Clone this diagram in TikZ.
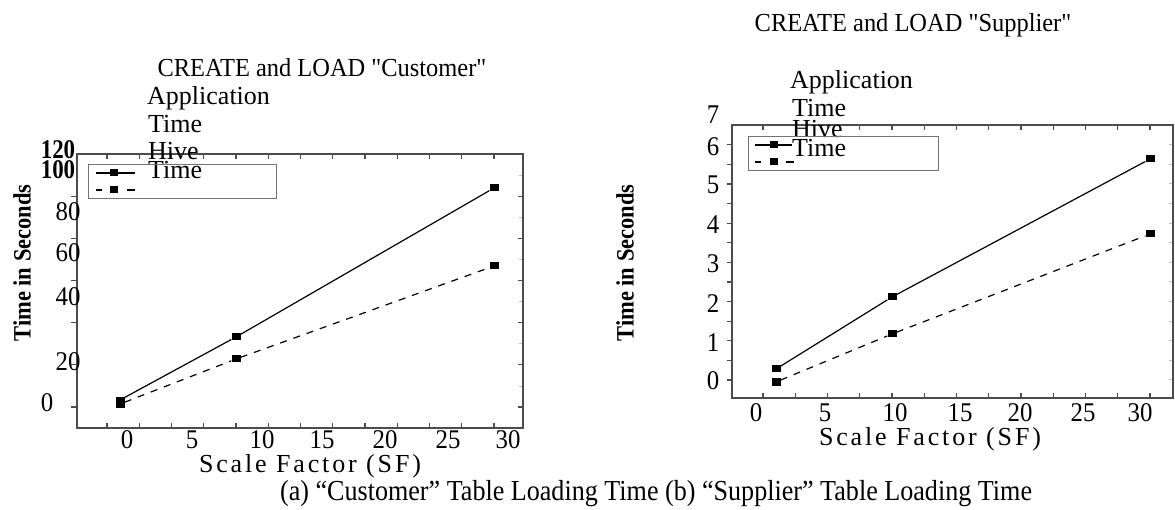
\documentclass[tikz,border=0pt]{standalone}
\usepackage{fontspec}
\setmainfont{Liberation Serif}
\newfontfamily\spacedserif[LetterSpace=11]{Liberation Serif}
\tikzset{
    > = stealth,
    axisline/.style = {draw=black!70, line width=1.6pt},
    tickline/.style = {draw=black!70, line width=1.2pt},
    faintick/.style = {draw=black!25, line width=1pt},
    legendbox/.style = {draw=black!55, line width=1pt},
    appline/.style = {draw=black, line width=1.2pt},
    hiveline/.style = {draw=black, line width=1.2pt, dash pattern=on 7pt off 7pt},
    legdash/.style = {draw=black, line width=1.2pt, dash pattern=on 6pt off 25pt on 8pt},
    datamark/.style = {fill=black, inner sep=0pt, minimum width=9pt, minimum height=7pt},
    legmark/.style = {fill=black, inner sep=0pt, minimum width=8pt, minimum height=7pt},
    ticklabel/.style = {font=\fontsize{27}{27}\selectfont, inner sep=0pt, xscale=0.92},
    boldlabel/.style = {font=\fontsize{27}{27}\selectfont\bfseries, inner sep=0pt, xscale=0.85},
    titletext/.style = {font=\fontsize{26}{26}\selectfont, inner sep=0pt, anchor=base, xscale=0.94},
    legendtext/.style = {font=\fontsize{26}{26}\selectfont, inner sep=0pt, anchor=base west},
    xtitle/.style = {font=\fontsize{26}{26}\selectfont\spacedserif, inner sep=0pt, anchor=base},
    ytitle/.style = {font=\fontsize{25}{25}\selectfont\bfseries, inner sep=0pt, rotate=90, xscale=0.9},
    captiontext/.style = {font=\fontsize{29}{29}\selectfont, inner sep=0pt, anchor=base, xscale=0.9}
}

\begin{document}
\begin{tikzpicture}[x=1pt, y=-1pt]
    \useasboundingbox (0,0) rectangle (1175,510);

    % (a) Customer
    \foreach \k in {0,...,12} {
        \draw[tickline] ({107+32.25*\k},154) -- ++(0,5);
        \draw[tickline] ({107+32.25*\k},428) -- ++(0,-5);
    }
    \foreach \k in {0,...,5} {
        \draw[tickline] (77,{407-42.17*\k}) -- ++(-6,0);
        \draw[tickline] (523,{407-42.17*\k}) -- ++(-5,0);
        \draw[faintick] (523,{386-42.17*\k}) -- ++(-4,0);
    }
    \draw[axisline] (77,154) rectangle (523,428);

    \node[boldlabel] (cy120) at (58,150) {120};
    \node[boldlabel] (cy100) at (58,170) {100};
    \node[ticklabel] (cy80) at (68,212) {80};
    \node[ticklabel] (cy60) at (68,253) {60};
    \node[ticklabel] (cy40) at (68,297) {40};
    \node[ticklabel] (cy20) at (68,362) {20};
    \node[ticklabel] (cy0) at (47,403) {0};

    \node[ticklabel] (cx0) at (127,440) {0};
    \node[ticklabel] (cx5) at (192,440) {5};
    \node[ticklabel] (cx10) at (262,440) {10};
    \node[ticklabel] (cx15) at (322,440) {15};
    \node[ticklabel] (cx20) at (385,440) {20};
    \node[ticklabel] (cx25) at (448,440) {25};
    \node[ticklabel] (cx30) at (508,440) {30};

    \node[titletext] (ctitle) at (322,77) {CREATE and LOAD \textquotedbl Customer\textquotedbl};
    \node[legendtext] (capp) at (147,105) {Application};
    \node[legendtext] (capp2) at (148,133) {Time};
    \node[legendtext] (chive) at (148,160) {Hive};
    \node[legendtext] (chive2) at (148,179) {Time};

    \node[ytitle] (cylabel) at (22,263) {Time in Seconds};
    \node[xtitle] (cxlabel) at (310,472) {Scale Factor (SF)};

    \draw[legendbox] (88,165) rectangle (276,199);
    \coordinate (cla) at (96,173);
    \coordinate (clb) at (135,173);
    \coordinate (clc) at (96,190);
    \coordinate (cld) at (135,190);
    \draw[appline] (cla) -- (clb);
    \draw[legdash] (clc) -- (cld);
    \node[legmark] (clam) at (114,173) {};
    \node[legmark] (clhm) at (114,190) {};

    \node[datamark] (ca1) at (120,400) {};
    \node[datamark] (ca2) at (236,337) {};
    \node[datamark] (ca3) at (494,188) {};
    \node[datamark] (ch1) at (120,404) {};
    \node[datamark] (ch2) at (236,359) {};
    \node[datamark] (ch3) at (494,266) {};
    \draw[appline] (ca1) -- (ca2) -- (ca3);
    \draw[hiveline] (ch1) -- (ch2) -- (ch3);

    % (b) Supplier
    \foreach \k in {0,...,12} {
        \draw[tickline] ({763+32.25*\k},125) -- ++(0,5);
        \draw[tickline] ({763+32.25*\k},398) -- ++(0,-5);
        \draw[tickline] (732,{380-19.6*\k}) -- ++(-5,0);
        \draw[faintick] (1173,{380-19.6*\k}) -- ++(-4,0);
    }
    \draw[axisline] (732,125) rectangle (1173,398);

    \node[ticklabel] (sy7) at (713,115) {7};
    \node[ticklabel] (sy6) at (713,147) {6};
    \node[ticklabel] (sy5) at (713,185) {5};
    \node[ticklabel] (sy4) at (713,225) {4};
    \node[ticklabel] (sy3) at (713,264) {3};
    \node[ticklabel] (sy2) at (713,304) {2};
    \node[ticklabel] (sy1) at (713,343) {1};
    \node[ticklabel] (sy0) at (713,381) {0};

    \node[ticklabel] (sx0) at (756,413) {0};
    \node[ticklabel] (sx5) at (825,413) {5};
    \node[ticklabel] (sx10) at (895,413) {10};
    \node[ticklabel] (sx15) at (960,413) {15};
    \node[ticklabel] (sx20) at (1020,413) {20};
    \node[ticklabel] (sx25) at (1083,413) {25};
    \node[ticklabel] (sx30) at (1140,413) {30};

    \node[titletext] (stitle) at (913,32) {CREATE and LOAD \textquotedbl Supplier\textquotedbl};
    \node[legendtext] (sapp) at (790,89) {Application};
    \node[legendtext] (sapp2) at (792,117) {Time};
    \node[legendtext] (shive) at (792,138) {Hive};
    \node[legendtext] (shive2) at (792,157) {Time};

    \node[ytitle] (sylabel) at (625,263) {Time in Seconds};
    \node[xtitle] (sxlabel) at (930,445) {Scale Factor (SF)};

    \draw[legendbox] (748,137) rectangle (938,171);
    \coordinate (sla) at (755,145);
    \coordinate (slb) at (792,145);
    \coordinate (slc) at (755,162);
    \coordinate (sld) at (795,162);
    \draw[appline] (sla) -- (slb);
    \draw[legdash] (slc) -- (sld);
    \node[legmark] (slam) at (774,145) {};
    \node[legmark] (slhm) at (774,162) {};

    \node[datamark] (sa1) at (776,369) {};
    \node[datamark] (sa2) at (892,297) {};
    \node[datamark] (sa3) at (1150,159) {};
    \node[datamark] (sh1) at (776,382) {};
    \node[datamark] (sh2) at (892,334) {};
    \node[datamark] (sh3) at (1150,234) {};
    \draw[appline] (sa1) -- (sa2) -- (sa3);
    \draw[hiveline] (sh1) -- (sh2) -- (sh3);

    \node[captiontext] (caption) at (656,500) {(a) “Customer” Table Loading Time (b) “Supplier” Table Loading Time};
\end{tikzpicture}
\end{document}
